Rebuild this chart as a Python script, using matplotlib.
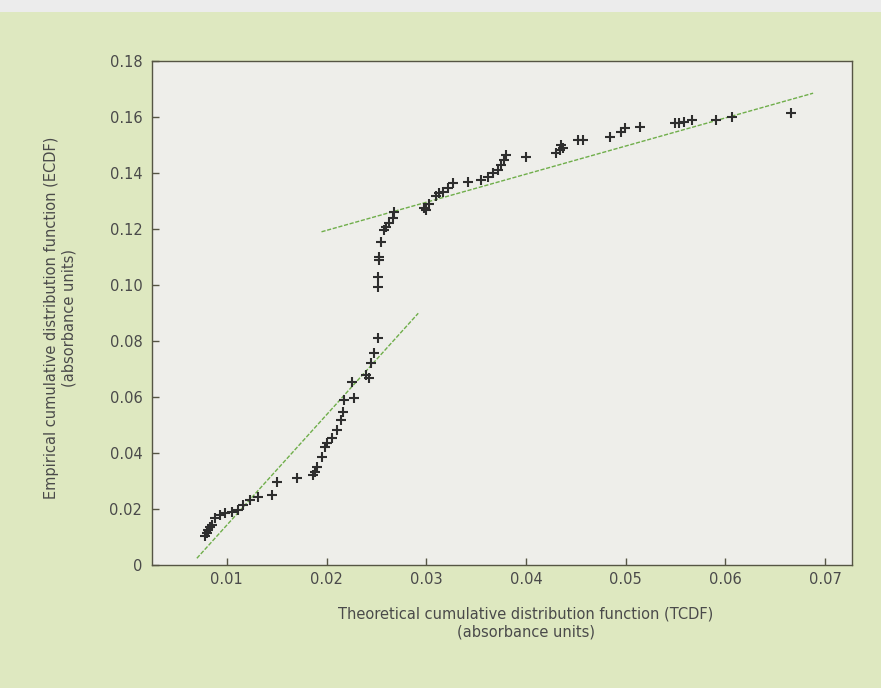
import matplotlib
matplotlib.use('Agg')
import matplotlib.pyplot as plt
from matplotlib.patches import Rectangle

# TCDF (x) y ECDF (y)
tcdf = [0.0078, 0.0080, 0.0081, 0.0083, 0.0085, 0.0088, 0.0093, 0.0098, 0.0105,
        0.0111, 0.0116, 0.0123, 0.0131, 0.0145, 0.0150, 0.0170, 0.0186, 0.0188,
        0.0190, 0.0195, 0.0198, 0.0201, 0.0206, 0.0211, 0.0215, 0.0217, 0.0218,
        0.0228, 0.0226, 0.0240, 0.0243, 0.0245, 0.0248, 0.0252,
        0.0252, 0.0252, 0.0253, 0.0253, 0.0255, 0.0258, 0.0260, 0.0263, 0.0267,
        0.0268,
        0.0298, 0.0300, 0.0303, 0.0310, 0.0313, 0.0317, 0.0322, 0.0327, 0.0342,
        0.0355, 0.0362, 0.0367, 0.0372, 0.0375, 0.0378, 0.0380, 0.0400, 0.0430,
        0.0434, 0.0435, 0.0437, 0.0452, 0.0457, 0.0484, 0.0495, 0.0499, 0.0514,
        0.0549, 0.0554, 0.0559, 0.0567, 0.0591, 0.0607, 0.0666]
ecdf = [0.0105, 0.0115, 0.0125, 0.0135, 0.0143, 0.0167, 0.0179, 0.0185, 0.0190,
        0.0196, 0.0214, 0.0232, 0.0244, 0.0250, 0.0297, 0.0310, 0.0320, 0.0333,
        0.0351, 0.0385, 0.0420, 0.0435, 0.0453, 0.0482, 0.0518, 0.0548, 0.0589,
        0.0595, 0.0655, 0.0679, 0.0667, 0.0720, 0.0756, 0.0810,
        0.0994, 0.1030, 0.1090, 0.1100, 0.1155, 0.1196, 0.1208, 0.1220, 0.1238,
        0.1260,
        0.1274, 0.1268, 0.1290, 0.1318, 0.1327, 0.1333, 0.1345, 0.1363, 0.1369,
        0.1375, 0.1387, 0.1399, 0.1411, 0.1429, 0.1446, 0.1464, 0.1456, 0.1470,
        0.1482, 0.1500, 0.1490, 0.1518, 0.1518, 0.1530, 0.1548, 0.1560, 0.1565,
        0.1577, 0.1580, 0.1583, 0.1589, 0.1589, 0.1601, 0.1613]

# rectas de ajuste (extremos)
fit_low_x = [0.0070, 0.0292]
fit_low_y = [0.0024, 0.0899]
fit_high_x = [0.0195, 0.0688]
fit_high_y = [0.1190, 0.1685]

x_ticks = [0.01, 0.02, 0.03, 0.04, 0.05, 0.06, 0.07]
x_labels = ['0.01', '0.02', '0.03', '0.04', '0.05', '0.06', '0.07']
y_ticks = [0, 0.02, 0.04, 0.06, 0.08, 0.10, 0.12, 0.14, 0.16, 0.18]
y_labels = ['0', '0.02', '0.04', '0.06', '0.08', '0.10', '0.12', '0.14', '0.16', '0.18']

fig = plt.figure(figsize=(8.81, 6.88), dpi=100, facecolor='#dee8c0')
# franja gris de arriba
fig.patches.append(Rectangle((0, 1 - 12 / 688), 1, 12 / 688, transform=fig.transFigure,
                             facecolor='#ececec', edgecolor='none', zorder=0))

ax = fig.add_axes([152 / 881, 1 - 565 / 688, 700 / 881, 504 / 688])
ax.set_facecolor('#eeeeea')

ax.plot(fit_low_x, fit_low_y, color='#6fae4a', lw=1.0, ls=(0, (3, 1.2)))
ax.plot(fit_high_x, fit_high_y, color='#6fae4a', lw=1.0, ls=(0, (3, 1.2)))
ax.plot(tcdf, ecdf, ls='none', marker='+', ms=6.5, mew=1.5, color='#2e2e2e')

ax.set_xlim(0.0025, 0.0727)
ax.set_ylim(0, 0.18)
ax.set_xticks(x_ticks)
ax.set_xticklabels(x_labels)
ax.set_yticks(y_ticks)
ax.set_yticklabels(y_labels)

for s in ax.spines.values():
    s.set_color('#555544')
    s.set_linewidth(1.0)
ax.tick_params(direction='in', length=5, width=1, color='#555544',
               labelsize=10.5, labelcolor='#4a4a4a')
ax.tick_params(axis='x', pad=5)
ax.tick_params(axis='y', pad=7)

fig.text(526 / 881, 1 - 623 / 688,
         'Theoretical cumulative distribution function (TCDF)\n(absorbance units)',
         ha='center', va='center', fontsize=10.5, color='#4a4a4a', multialignment='center')
fig.text(60 / 881, 1 - 318 / 688,
         'Empirical cumulative distribution function (ECDF)\n(absorbance units)',
         ha='center', va='center', rotation=90, fontsize=10.5, color='#4a4a4a',
         multialignment='center')

fig.savefig('out.png', dpi=100, facecolor=fig.get_facecolor())
